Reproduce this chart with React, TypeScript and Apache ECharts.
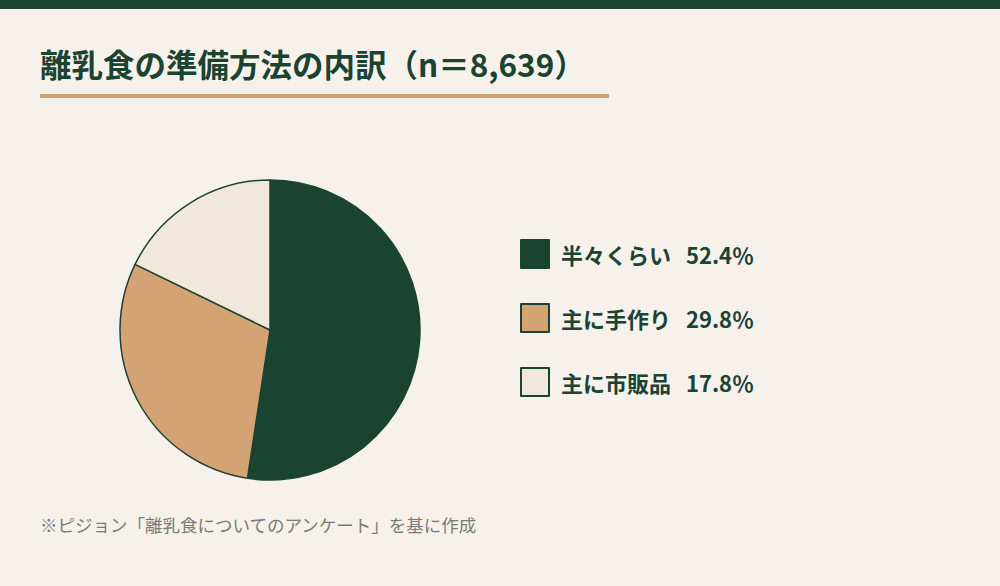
import React, { useEffect, useRef } from "react";
import * as echarts from "echarts";

const categories = ["半々くらい", "主に手作り", "主に市販品"];
const values = [52.4, 29.8, 17.8];
const colors = ["#1B4332", "#D4A373", "#EFE8DB"];
const titleText = "離乳食の準備方法の内訳（n＝8,639）";
const sourceText = "※ピジョン「離乳食についてのアンケート」を基に作成";

const FONT = "'Noto Sans CJK JP', 'Noto Sans', sans-serif";
const DARK = "#1B4332";

export default function App() {
  const ref = useRef<HTMLDivElement>(null);
  useEffect(() => {
    document.body.style.margin = "0";
    const chart = echarts.init(ref.current!, null, { renderer: "svg" });
    chart.setOption({
      animation: false,
      backgroundColor: "#F6F2EB",
      textStyle: { fontFamily: FONT },
      graphic: [
        { type: "rect", left: 0, top: 0, shape: { width: 1000, height: 9 }, style: { fill: DARK } },
        {
          type: "text",
          left: 40,
          top: 47,
          style: { text: titleText, fill: DARK, font: `bold 31.5px ${FONT}` },
        },
        { type: "rect", left: 40, top: 94, shape: { width: 569, height: 4 }, style: { fill: "#D4A373" } },
        {
          type: "text",
          left: 40,
          top: 516,
          style: { text: sourceText, fill: "#7A7A7A", font: `17.5px ${FONT}` },
        },
      ],
      legend: {
        orient: "vertical",
        left: 520,
        top: 239,
        padding: 0,
        itemWidth: 28,
        itemHeight: 28,
        itemGap: 34,
        icon: "rect",
        itemStyle: { borderColor: DARK, borderWidth: 2 },
        formatter: (name: string) => {
          const i = categories.indexOf(name);
          return `${name}   ${values[i].toFixed(1)}％`;
        },
        textStyle: { color: DARK, fontSize: 22, fontWeight: "bold", fontFamily: FONT, padding: [0, 0, 0, 7] },
      },
      series: [
        {
          type: "pie",
          center: [270, 330],
          radius: 150,
          startAngle: 90,
          clockwise: true,
          label: { show: false },
          labelLine: { show: false },
          emphasis: { disabled: true },
          itemStyle: { borderColor: DARK, borderWidth: 1.5 },
          data: categories.map((c, i) => ({
            name: c,
            value: values[i],
            itemStyle: { color: colors[i] },
          })),
        },
      ],
    });
    return () => chart.dispose();
  }, []);
  return <div ref={ref} style={{ width: 1000, height: 586 }} />;
}
